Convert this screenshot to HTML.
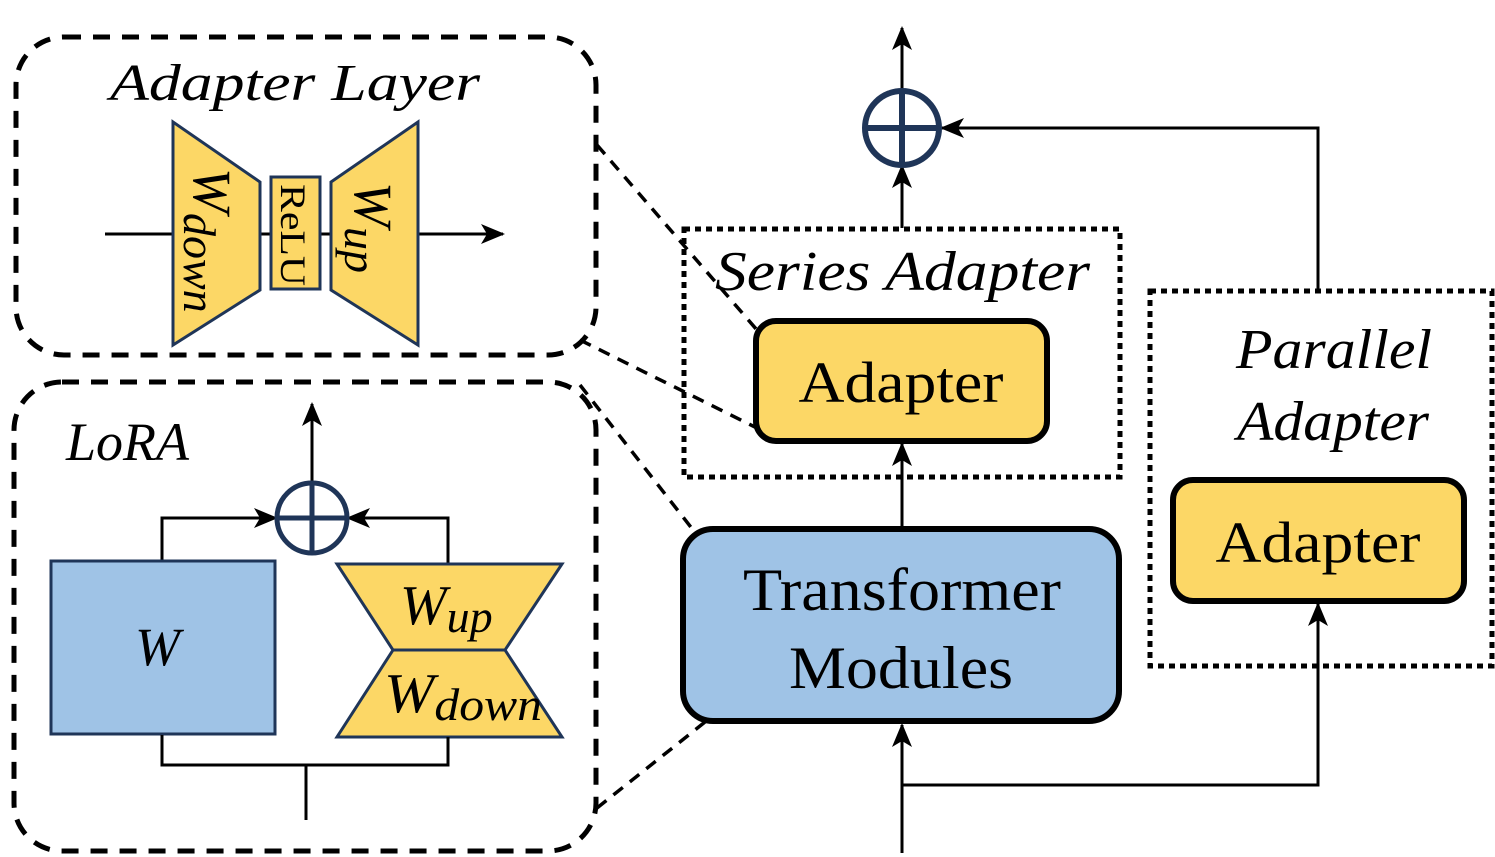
<!DOCTYPE html>
<html><head><meta charset="utf-8"><style>html,body{margin:0;padding:0;background:#fff}svg{display:block}</style></head>
<body>
<svg width="1495" height="857" viewBox="0 0 1495 857" xmlns="http://www.w3.org/2000/svg" font-family="'Liberation Serif', serif">
<defs>
<marker id="ah" viewBox="0 0 24 20" refX="22" refY="10" markerWidth="24" markerHeight="20" markerUnits="userSpaceOnUse" orient="auto">
<path d="M0,0 L24,10 L0,20 L6,10 Z" fill="#000"/>
</marker>
</defs>
<g fill="none" stroke="#000" stroke-width="5" stroke-dasharray="17 12">
<rect x="16" y="37" width="580" height="318" rx="48"/>
<rect x="14" y="382" width="582" height="469" rx="48"/>
</g>
<g fill="none" stroke="#000" stroke-width="3.5" stroke-dasharray="12 9">
<line x1="597" y1="145" x2="757" y2="330"/>
<line x1="580" y1="340" x2="757" y2="428"/>
<line x1="580" y1="385" x2="697" y2="535"/>
<line x1="597" y1="808" x2="705" y2="722"/>
</g>
<!-- Adapter layer -->
<text x="110" y="100" font-size="52" font-style="italic" textLength="370" lengthAdjust="spacingAndGlyphs">Adapter Layer</text>
<line x1="105" y1="234" x2="503" y2="234" stroke="#000" stroke-width="3" marker-end="url(#ah)"/>
<g fill="#fcd766" stroke="#1f3558" stroke-width="3">
<polygon points="173,122 260,182 260,290 173,345"/>
<rect x="271" y="177" width="49" height="112"/>
<polygon points="331,182 418,122 418,345 331,290"/>
</g>
<text transform="translate(194,168) rotate(90)" font-size="54" font-style="italic">W<tspan font-size="46" dy="10">down</tspan></text>
<text transform="translate(281,184) rotate(90)" font-size="36" textLength="102" lengthAdjust="spacingAndGlyphs">ReLU</text>
<text transform="translate(355,182) rotate(90)" font-size="54" font-style="italic">W<tspan font-size="46" dy="10">up</tspan></text>
<!-- LoRA -->
<text x="66" y="460" font-size="54" font-style="italic">LoRA</text>
<line x1="312" y1="485" x2="312" y2="404" stroke="#000" stroke-width="3" marker-end="url(#ah)"/>
<polyline points="162,560 162,518 276,518" fill="none" stroke="#000" stroke-width="3" marker-end="url(#ah)"/>
<polyline points="448,563 448,518 348,518" fill="none" stroke="#000" stroke-width="3" marker-end="url(#ah)"/>
<ellipse cx="312" cy="518" rx="35" ry="35" fill="none" stroke="#1f3558" stroke-width="5"/>
<line x1="277" y1="518" x2="347" y2="518" stroke="#1f3558" stroke-width="5"/>
<line x1="312" y1="483" x2="312" y2="553" stroke="#1f3558" stroke-width="5"/>
<rect x="51" y="561" width="224" height="173" fill="#9fc3e6" stroke="#1f3558" stroke-width="3"/>
<text x="135" y="665" font-size="54" font-style="italic">W</text>
<polygon points="337,564 562,564 505,650 562,737 337,737 393,650" fill="#fcd766" stroke="#1f3558" stroke-width="3"/>
<line x1="393" y1="650" x2="505" y2="650" stroke="#1f3558" stroke-width="3"/>
<text x="400" y="624" font-size="56" font-style="italic">W<tspan font-size="46" dy="8">up</tspan></text>
<text x="384" y="712" font-size="56" font-style="italic" textLength="158" lengthAdjust="spacingAndGlyphs">W<tspan font-size="46" dy="8">down</tspan></text>
<polyline points="162,735 162,765 448,765 448,737" fill="none" stroke="#000" stroke-width="3"/>
<line x1="306" y1="765" x2="306" y2="820" stroke="#000" stroke-width="3"/>
<!-- Right -->
<line x1="902" y1="853" x2="902" y2="725" stroke="#000" stroke-width="3" marker-end="url(#ah)"/>
<polyline points="902,785 1318,785 1318,604" fill="none" stroke="#000" stroke-width="3" marker-end="url(#ah)"/>
<line x1="902" y1="528" x2="902" y2="444" stroke="#000" stroke-width="3" marker-end="url(#ah)"/>
<line x1="902" y1="228" x2="902" y2="166" stroke="#000" stroke-width="3" marker-end="url(#ah)"/>
<line x1="902" y1="92" x2="902" y2="28" stroke="#000" stroke-width="3" marker-end="url(#ah)"/>
<polyline points="1318,290 1318,128 942,128" fill="none" stroke="#000" stroke-width="3" marker-end="url(#ah)"/>
<ellipse cx="902" cy="128" rx="37" ry="37" fill="none" stroke="#1f3558" stroke-width="6"/>
<line x1="865" y1="128" x2="939" y2="128" stroke="#1f3558" stroke-width="6"/>
<line x1="902" y1="91" x2="902" y2="165" stroke="#1f3558" stroke-width="6"/>
<rect x="684" y="229" width="436" height="248" fill="none" stroke="#000" stroke-width="5" stroke-dasharray="6 5"/>
<rect x="1150" y="291" width="342" height="375" fill="none" stroke="#000" stroke-width="5" stroke-dasharray="6 5"/>
<text x="715" y="290" font-size="56" font-style="italic" textLength="375" lengthAdjust="spacingAndGlyphs">Series Adapter</text>
<text x="1236" y="368" font-size="56" font-style="italic" textLength="196" lengthAdjust="spacingAndGlyphs">Parallel</text>
<text x="1237" y="440" font-size="56" font-style="italic" textLength="192" lengthAdjust="spacingAndGlyphs">Adapter</text>
<rect x="756" y="321" width="291" height="120" rx="20" fill="#fcd766" stroke="#000" stroke-width="6"/>
<text x="901" y="402" font-size="58" text-anchor="middle" textLength="205" lengthAdjust="spacingAndGlyphs">Adapter</text>
<rect x="1173" y="480" width="291" height="121" rx="20" fill="#fcd766" stroke="#000" stroke-width="6"/>
<text x="1318" y="562" font-size="58" text-anchor="middle" textLength="205" lengthAdjust="spacingAndGlyphs">Adapter</text>
<rect x="683" y="529" width="436" height="192" rx="30" fill="#9fc3e6" stroke="#000" stroke-width="6"/>
<text x="902" y="610" font-size="60" text-anchor="middle" textLength="318" lengthAdjust="spacingAndGlyphs">Transformer</text>
<text x="901" y="688" font-size="60" text-anchor="middle" textLength="224" lengthAdjust="spacingAndGlyphs">Modules</text>
</svg>
</body></html>
